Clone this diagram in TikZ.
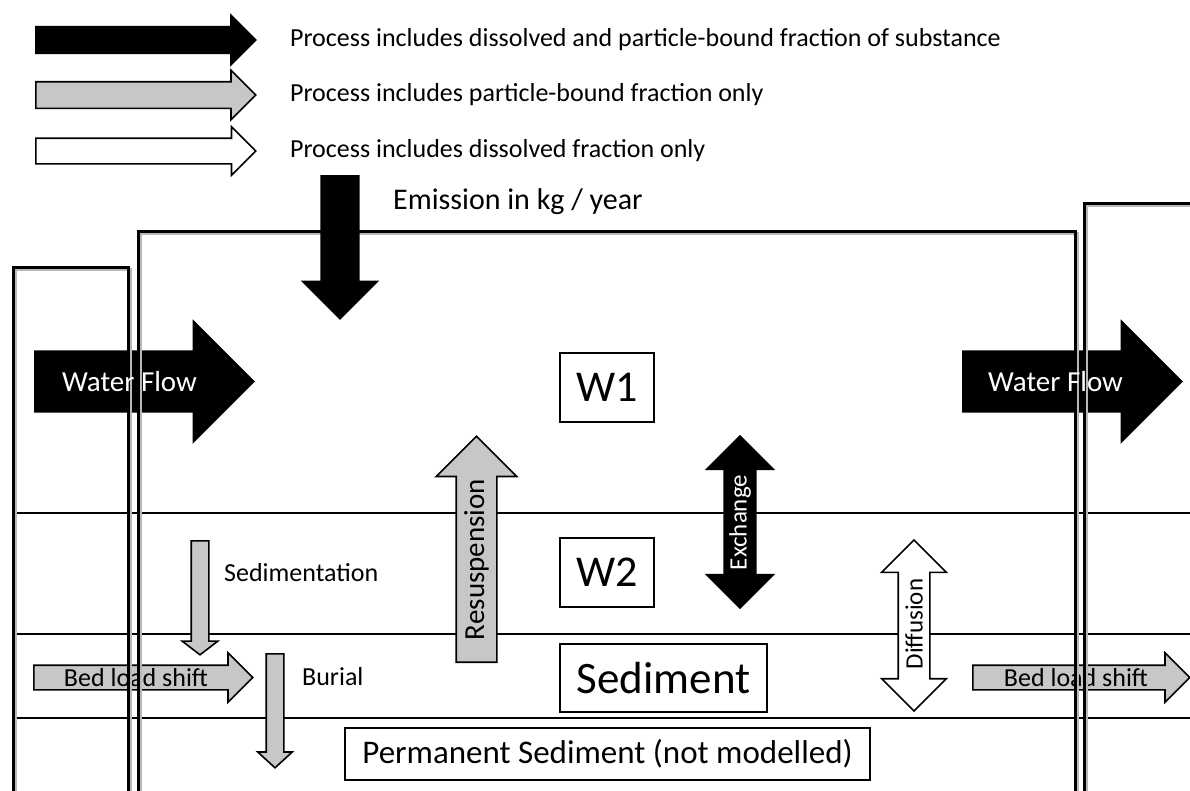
\documentclass[tikz,border=0pt]{standalone}
\usepackage{fontspec}
\setmainfont{Carlito}
\usepackage{tikz}
\usetikzlibrary{shapes.arrows, positioning, calc}
\tikzstyle{procarrow} = [draw=black, single arrow, single arrow head indent=0pt, single arrow tip angle=90, inner sep=0pt, anchor=tail, line width=1.6pt]
\tikzstyle{twoway} = [draw=black, double arrow, double arrow head indent=0pt, double arrow tip angle=90, inner sep=0pt, anchor=center, rotate=90, line width=1.6pt]
\tikzstyle{bothfrac} = [fill=black]
\tikzstyle{partfrac} = [fill=black!22]
\tikzstyle{dissfrac} = [fill=white]
\tikzstyle{compart} = [draw=black, line width=3pt]
\tikzstyle{compshadow} = [draw=black!28, line width=3pt]
\tikzstyle{layer} = [draw=black, line width=1.2pt]
\tikzstyle{pool} = [draw=black, line width=1.6pt, inner sep=0pt]
\tikzstyle{legtext} = [inner sep=0pt, font=\fontsize{26}{30}\selectfont]
\tikzstyle{proctext} = [inner sep=0pt, font=\fontsize{26}{30}\selectfont]
\tikzstyle{flowtext} = [inner sep=0pt, text=white, font=\fontsize{29}{32}\selectfont]

\begin{document}
\begin{tikzpicture}[x=1pt, y=-1pt]
    \useasboundingbox (0,0) rectangle (1190,790);

    % layers
    \draw [layer] (13,513) -- (1190,513);
    \draw [layer] (13,634) -- (1190,634);
    \draw [layer] (13,718) -- (1190,718);

    % flows between compartments
    \node (wfleft) [procarrow, bothfrac, minimum height=219pt, inner ysep=29.5pt, single arrow head extend=30pt] at (34,381.5) {};
    \node (wfright) [procarrow, bothfrac, minimum height=219pt, inner ysep=29.5pt, single arrow head extend=30pt] at (962,381.5) {};
    \node (bedleft) [procarrow, partfrac, minimum height=219pt, inner ysep=11.5pt, single arrow head extend=12.5pt] at (33,677.5) {};
    \node (bedright) [procarrow, partfrac, minimum height=217pt, inner ysep=11.5pt, single arrow head extend=12.5pt] at (972,677.5) {};
    \node (bedlefttxt) [proctext] at ([xshift=103pt]bedleft.tail) {Bed load shift};
    \node (bedrighttxt) [proctext] at ([xshift=104pt]bedright.tail) {Bed load shift};

    % compartments
    \begin{scope}[shift={(2,2)}]
        \draw [compshadow] (13,795) |- (128,267) -- (128,795);
        \draw [compshadow] (138,795) |- (1075,231) -- (1075,795);
        \draw [compshadow] (1084,795) |- (1195,203);
    \end{scope}
    \draw [compart] (13,795) |- (128,267) -- (128,795);
    \draw [compart] (138,795) |- (1075,231) -- (1075,795);
    \draw [compart] (1084,795) |- (1195,203);
    \node (wflefttxt) [flowtext] at ([xshift=95.5pt]wfleft.tail) {Water Flow};
    \node (wfrighttxt) [flowtext] at ([xshift=93.5pt]wfright.tail) {Water Flow};

    % legend
    \node (legboth) [procarrow, bothfrac, minimum height=220pt, inner ysep=12.5pt, single arrow head extend=11.5pt] at (35,40) {};
    \node (legpart) [procarrow, partfrac, minimum height=220pt, inner ysep=12.5pt, single arrow head extend=11.5pt] at (35,95) {};
    \node (legdiss) [procarrow, dissfrac, minimum height=220pt, inner ysep=12pt, single arrow head extend=11.5pt] at (35,151) {};
    \node (legbothtxt) [legtext, right=33pt of legboth.tip] {Process includes dissolved and particle-bound fraction of substance};
    \node (legparttxt) [legtext, right=33pt of legpart.tip] {Process includes particle-bound fraction only};
    \node (legdisstxt) [legtext, right=33pt of legdiss.tip] {Process includes dissolved fraction only};

    % emission
    \node (emis) [procarrow, bothfrac, rotate=-90, minimum height=143pt, inner ysep=18pt, single arrow head extend=18.5pt] at (340,175) {};
    \node (emistxt) [anchor=west, inner sep=0pt, font=\fontsize{30}{34}\selectfont] at (393,202) {Emission in kg / year};

    % pools
    \node (w1) [pool, minimum width=94pt, minimum height=69pt, font=\fontsize{44}{48}\selectfont] at (607,387.5) {W1};
    \node (w2) [pool, minimum width=94pt, minimum height=69pt, font=\fontsize{44}{48}\selectfont] at (607,572.5) {W2};
    \node (sed) [pool, minimum width=207pt, minimum height=68pt, font=\fontsize{45}{48}\selectfont] at (663.5,678) {Sediment};
    \node (perm) [pool, minimum width=525pt, minimum height=52pt, font=\fontsize{33}{36}\selectfont] at (607.5,754) {Permanent Sediment (not modelled)};

    % processes
    \node (resus) [procarrow, partfrac, rotate=90, minimum height=226pt, inner ysep=19.5pt, single arrow head extend=20pt] at (476.5,663) {};
    \node (resustxt) [proctext, rotate=90, font=\fontsize{29}{32}\selectfont] at (476.5,559.5) {Resuspension};
    \node (exch) [twoway, bothfrac, minimum height=172pt, inner ysep=15pt, double arrow head extend=17.5pt] at (740,522) {};
    \node (exchtxt) [proctext, rotate=90, text=white, font=\fontsize{25}{28}\selectfont] at (740,522.5) {Exchange};
    \node (diff) [twoway, dissfrac, minimum height=171pt, inner ysep=15pt, double arrow head extend=16.5pt] at (914,625.5) {};
    \node (difftxt) [proctext, rotate=90, font=\fontsize{25}{28}\selectfont] at (914,624) {Diffusion};
    \node (sedim) [procarrow, partfrac, rotate=-90, minimum height=114pt, inner ysep=8pt, single arrow head extend=9pt, single arrow tip angle=105] at (200,540) {};
    \node (sedimtxt) [proctext, anchor=west] at (224,573) {Sedimentation};
    \node (burial) [procarrow, partfrac, rotate=-90, minimum height=114pt, inner ysep=8pt, single arrow head extend=8.5pt, single arrow tip angle=95] at (275,653) {};
    \node (burialtxt) [proctext, anchor=west] at (302,677) {Burial};
\end{tikzpicture}
\end{document}
